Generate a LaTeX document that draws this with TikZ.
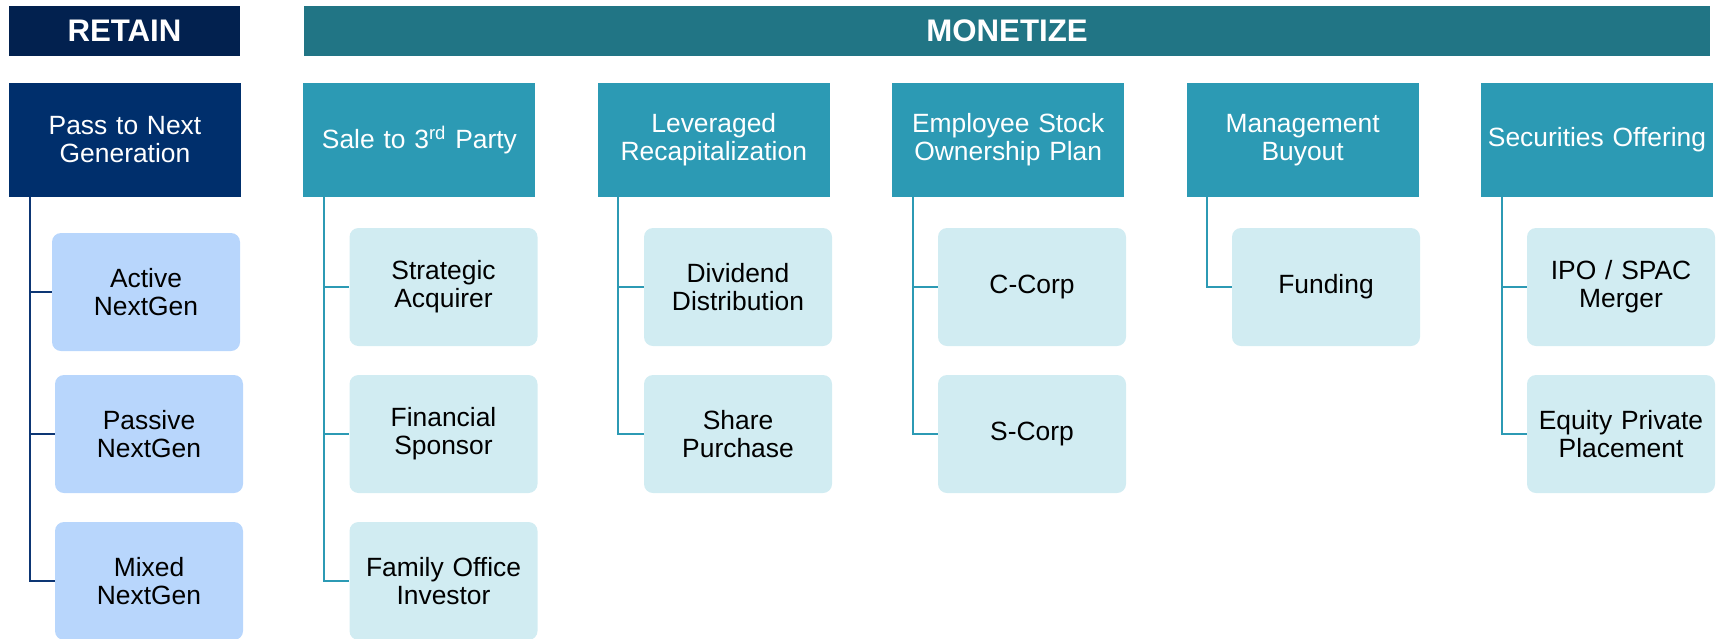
\documentclass[tikz,border=0pt]{standalone}
\usepackage{fontspec}
\setmainfont{Liberation Sans}

\definecolor{retainbar}{HTML}{02214F}
\definecolor{retainhead}{HTML}{002F6C}
\definecolor{retainleaf}{HTML}{B8D6FC}
\definecolor{retainline}{HTML}{0D3674}
\definecolor{monetizebar}{HTML}{217585}
\definecolor{monetizehead}{HTML}{2C9AB4}
\definecolor{monetizeleaf}{HTML}{D1ECF2}

\begin{document}
\begin{tikzpicture}[x=0.5pt,y=-0.5pt,
    titlebar/.style={fill=#1,text=white,inner sep=0pt,minimum height=25pt,
      font=\fontsize{15.6}{17}\selectfont\bfseries},
    hdr/.style={fill=#1,text=white,inner sep=0pt,minimum width=116pt,
      minimum height=57pt,text width=114pt,align=center,
      font=\fontsize{13.2}{14}\selectfont},
    leaf/.style={fill=#1,rounded corners=4.5pt,inner sep=0pt,minimum width=94pt,
      minimum height=59pt,text width=92pt,align=center,
      font=\fontsize{13.2}{14}\selectfont},
    branch/.style={draw=#1,line width=1pt}]
  \useasboundingbox (0,0) rectangle (1723,638);

  % top bars
  \node[titlebar=retainbar,minimum width=115.5pt] (retain) at (124.5,31) {RETAIN};
  \node[titlebar=monetizebar,minimum width=703pt] (monetize) at (1007,31) {MONETIZE};

  % column heads
  \node[hdr=retainhead]   (pass)  at (125,140)    {Pass to Next\\Generation};
  \node[hdr=monetizehead] (sale)  at (419.4,140)  {Sale to 3\textsuperscript{rd} Party};
  \node[hdr=monetizehead] (recap) at (713.8,140)  {Leveraged\\Recapitalization};
  \node[hdr=monetizehead] (esop)  at (1008.2,140) {Employee Stock\\Ownership Plan};
  \node[hdr=monetizehead] (mbo)   at (1302.6,140) {Management\\Buyout};
  \node[hdr=monetizehead] (offer) at (1597,140)   {Securities Offering};

  % options under each head
  \node[leaf=retainleaf] (active)  at (146,292) {Active\\NextGen};
  \node[leaf=retainleaf] (passive) at (149,434) {Passive\\NextGen};
  \node[leaf=retainleaf] (mixed)   at (149,581) {Mixed\\NextGen};

  \node[leaf=monetizeleaf] (strategic) at (443.5,287) {Strategic\\Acquirer};
  \node[leaf=monetizeleaf] (sponsor)   at (443.5,434) {Financial\\Sponsor};
  \node[leaf=monetizeleaf] (family)    at (443.5,581) {Family Office\\Investor};

  \node[leaf=monetizeleaf] (dividend) at (738,287) {Dividend\\Distribution};
  \node[leaf=monetizeleaf] (share)    at (738,434) {Share\\Purchase};

  \node[leaf=monetizeleaf] (ccorp) at (1032,287) {C-Corp};
  \node[leaf=monetizeleaf] (scorp) at (1032,434) {S-Corp};

  \node[leaf=monetizeleaf] (funding) at (1326,287) {Funding};

  \node[leaf=monetizeleaf] (ipo)    at (1621,287) {IPO / SPAC\\Merger};
  \node[leaf=monetizeleaf] (equity) at (1621,434) {Equity Private\\Placement};

  % tree lines
  \draw[branch=retainline] ([xshift=10.5pt]pass.south west) |- (active.west);
  \draw[branch=retainline] ([xshift=10.5pt]pass.south west) |- (passive.west);
  \draw[branch=retainline] ([xshift=10.5pt]pass.south west) |- (mixed.west);

  \draw[branch=monetizehead] ([xshift=10.5pt]sale.south west) |- (strategic.west);
  \draw[branch=monetizehead] ([xshift=10.5pt]sale.south west) |- (sponsor.west);
  \draw[branch=monetizehead] ([xshift=10.5pt]sale.south west) |- (family.west);

  \draw[branch=monetizehead] ([xshift=10.5pt]recap.south west) |- (dividend.west);
  \draw[branch=monetizehead] ([xshift=10.5pt]recap.south west) |- (share.west);

  \draw[branch=monetizehead] ([xshift=10.5pt]esop.south west) |- (ccorp.west);
  \draw[branch=monetizehead] ([xshift=10.5pt]esop.south west) |- (scorp.west);

  \draw[branch=monetizehead] ([xshift=10.5pt]mbo.south west) |- (funding.west);

  \draw[branch=monetizehead] ([xshift=10.5pt]offer.south west) |- (ipo.west);
  \draw[branch=monetizehead] ([xshift=10.5pt]offer.south west) |- (equity.west);
\end{tikzpicture}
\end{document}
